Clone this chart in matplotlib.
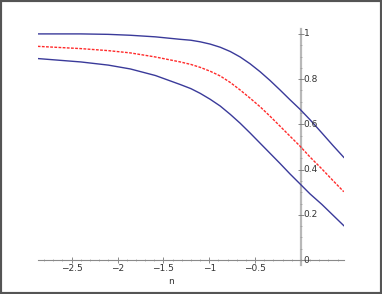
import numpy as np
import matplotlib
matplotlib.use("Agg")
import matplotlib.pyplot as plt
from matplotlib.patches import Rectangle
from matplotlib.ticker import MultipleLocator, FuncFormatter

# values
n = [-2.87, -2.40, -2.10, -1.86, -1.587, -1.315, -1.2, -1.098, -0.99, -0.88, -0.77, -0.663,
     -0.555, -0.446, -0.337, -0.228, -0.12, -0.011, 0.1, 0.228, 0.35, 0.467]
upper = [1.0, 1.0, 0.998, 0.994, 0.987, 0.976, 0.972, 0.965, 0.955, 0.941, 0.922, 0.898,
         0.868, 0.833, 0.794, 0.752, 0.709, 0.667, 0.62, 0.562, 0.506, 0.454]
middle = [0.945, 0.935, 0.926, 0.916, 0.898, 0.876, 0.865, 0.852, 0.835, 0.814, 0.785, 0.752,
          0.716, 0.678, 0.636, 0.592, 0.548, 0.504, 0.455, 0.403, 0.351, 0.302]
lower = [0.891, 0.876, 0.862, 0.845, 0.816, 0.776, 0.758, 0.737, 0.711, 0.681, 0.644, 0.605,
         0.562, 0.517, 0.472, 0.427, 0.381, 0.337, 0.292, 0.246, 0.198, 0.152]

xticks = [-2.5, -2, -1.5, -1, -0.5]
yticks = [0, 0.2, 0.4, 0.6, 0.8, 1]

fig = plt.figure(figsize=(3.82, 2.94), dpi=100)
ax = fig.add_axes([0.0987, 0.0986, 0.802, 0.803])

ax.plot(n, upper, color="#3a3a9a", lw=1.0)
ax.plot(n, lower, color="#3a3a9a", lw=1.0)
ax.plot(n, middle, color="#ff2a2a", lw=1.0, dashes=(2, 1))

ax.set_xlim(-2.87, 0.47)
ax.set_ylim(-0.022, 1.022)

ax.spines["left"].set_position(("data", 0))
ax.spines["bottom"].set_position(("data", 0))
ax.spines["right"].set_visible(False)
ax.spines["top"].set_visible(False)
ax.spines["left"].set_color("#b8b8b8")
ax.spines["left"].set_linewidth(1.6)
ax.spines["bottom"].set_color("#8a8a8a")
ax.spines["bottom"].set_linewidth(0.8)
ax.spines["left"].set_zorder(0)

ax.set_xticks(xticks)
ax.xaxis.set_minor_locator(MultipleLocator(0.1))
ax.set_yticks(yticks)
ax.yaxis.set_minor_locator(MultipleLocator(0.05))

fmt = FuncFormatter(lambda v, p: ("%g" % v).replace("-", "\u2212"))
ax.xaxis.set_major_formatter(fmt)

ax.tick_params(axis="x", which="major", direction="inout", length=4, width=0.6,
               color="#777777", labelsize=6.5, labelcolor="#333333", pad=1)
ax.tick_params(axis="x", which="minor", direction="inout", length=2, width=0.5, color="#999999")
ax.tick_params(axis="y", which="major", direction="inout", length=4, width=0.6,
               color="#777777", labelleft=False)
ax.tick_params(axis="y", which="minor", direction="inout", length=2, width=0.5, color="#999999")

# y labels sit to the right of the axis line
for v in yticks:
    ax.text(0.03, v, fmt(v, None), fontsize=6.5, color="#333333", ha="left", va="center",
            clip_on=False)

ax.text(-1.42, -0.093, "n", fontsize=6.5, color="#333333", ha="center", va="center", clip_on=False)

fig.patches.append(Rectangle((0, 0), 1, 1, transform=fig.transFigure, fill=False,
                             edgecolor="#555555", linewidth=3))

fig.savefig("out.png", dpi=100)
